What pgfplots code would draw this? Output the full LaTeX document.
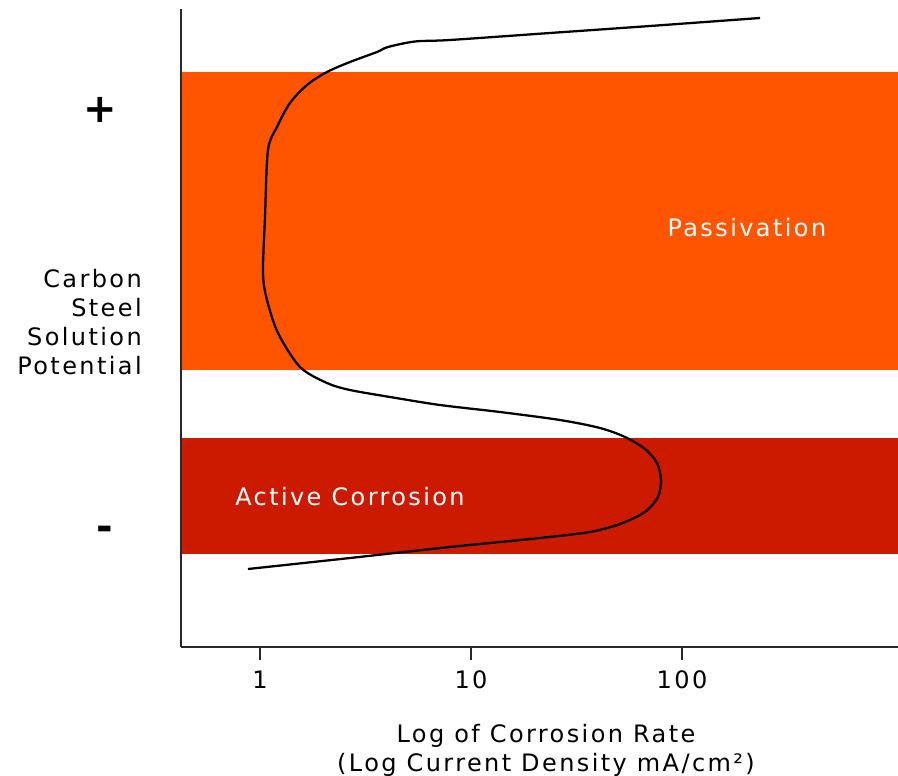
\documentclass[border=0pt]{standalone}
\usepackage{pgfplots}
\pgfplotsset{compat=1.18}
\usepackage{fontspec}
\setmainfont[LetterSpace=10]{DejaVu Sans}
\definecolor{passiv}{RGB}{255,85,0}
\definecolor{active}{RGB}{204,26,0}
\definecolor{spine}{RGB}{40,40,40}
\begin{document}
\begin{tikzpicture}
\useasboundingbox (0pt,0pt) rectangle (673.5pt,581.25pt);
\begin{axis}[
  at={(135.75pt,96pt)}, anchor=south west,
  width=537.75pt, height=478.5pt, scale only axis,
  xmin=-0.3744, xmax=3.0237, ymin=0, ymax=638,
  axis lines=left,
  axis line style={-, line width=1.6pt, draw=spine},
  xtick={0,1,2}, xticklabels={1,10,100},
  ytick=\empty,
  tick align=outside,
  major tick length=10pt,
  tick style={line width=1.6pt, draw=spine},
  /pgf/number format/assume math mode=true,
  xticklabel style={font=\fontsize{18}{20}\selectfont, yshift=-4.5pt},
  axis on top,
  clip=false,
]
% x values: log10 of the corrosion rate (1 -> 0, 10 -> 1, 100 -> 2)
\addplot[draw=none, fill=passiv] coordinates {(-0.3744,277) (3.0237,277) (3.0237,575) (-0.3744,575)};
\addplot[draw=none, fill=active] coordinates {(-0.3744,93) (3.0237,93) (3.0237,209) (-0.3744,209)};
\addplot[smooth, tension=0.5, line width=1.7pt, black] coordinates {
 (-0.0569,78) (0.4265,89) (0.9005,100) (1.3270,109) (1.5640,115) (1.7062,123)
 (1.8246,135) (1.8863,150) (1.9005,167) (1.8815,184) (1.8246,198) (1.7299,210)
 (1.6114,219) (1.4218,227) (1.1374,235) (0.8531,242) (0.6161,250) (0.4265,257)
 (0.3175,264) (0.1896,280) (0.0853,314) (0.0332,347) (0.0142,374) (0.0237,430)
 (0.0379,497) (0.0806,520) (0.1422,544) (0.2227,562) (0.3175,575) (0.4265,585)
 (0.5545,595) (0.6066,600) (0.7346,605.5) (0.9005,607) (1.3744,614) (1.8483,621) (2.3697,629)
};
\node[white, font=\fontsize{18}{20}\selectfont] at (axis cs:2.3075,419) {Passivation};
\node[white, font=\fontsize{18}{20}\selectfont] at (axis cs:0.4265,150) {Active Corrosion};
\end{axis}
\begin{scope}[x=0.75pt,y=0.75pt]
\draw[spine, line width=1.6pt] (260,128) -- (260,115);
\draw[spine, line width=1.6pt] (471,128) -- (471,115);
\draw[spine, line width=1.6pt] (682,128) -- (682,115);
\node[font=\bfseries\fontsize{30}{30}\selectfont, inner sep=0pt] at (100,665.5) {+};
\node[font=\bfseries\fontsize{30}{30}\selectfont, inner sep=0pt] at (104.5,242) {-};
\node[align=right, anchor=east, inner sep=0pt, font=\fontsize{18}{21.75}\selectfont] at (142,452.5) {Carbon\\Steel\\Solution\\Potential};
\node[align=center, inner sep=0pt, font=\fontsize{18}{21.75}\selectfont] at (546,25) {Log of Corrosion Rate\\(Log Current Density mA/cm²)};
\end{scope}
\end{tikzpicture}
\end{document}
